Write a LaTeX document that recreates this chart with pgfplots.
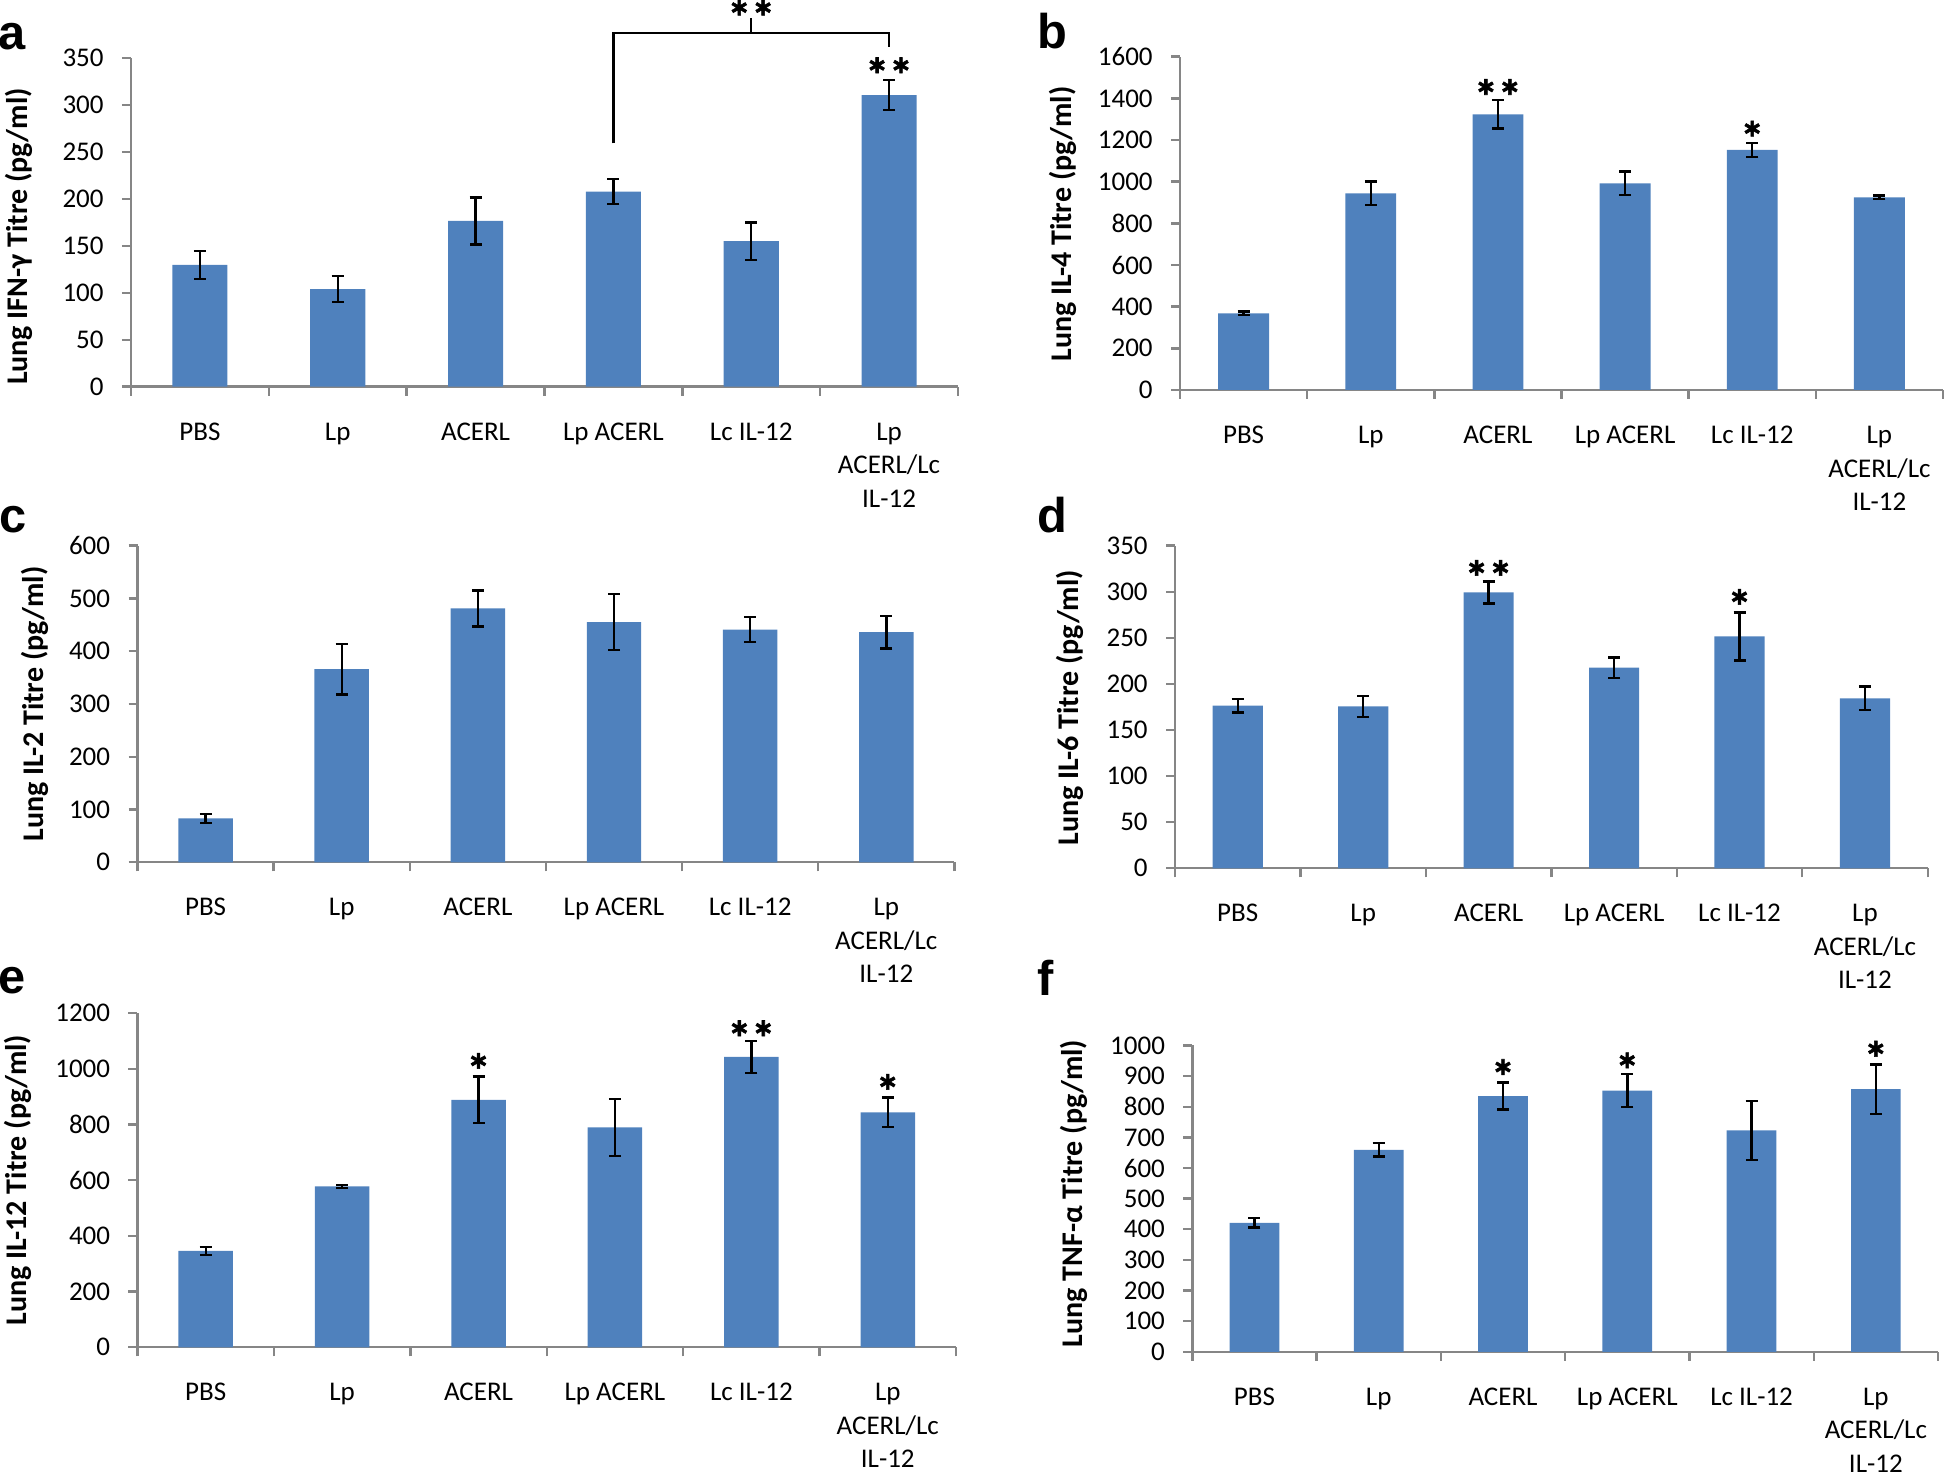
\documentclass[border=0pt]{standalone}
\usepackage{pgfplots}
\pgfplotsset{compat=1.18}
\usepackage{fontspec}
\setmainfont{Carlito}
\newfontfamily\arialfont{Liberation Sans}
\newfontfamily\starfam{Carlito}[BoldFeatures={FakeBold=1.2}]
\definecolor{axisgray}{HTML}{868686}
\definecolor{barblue}{HTML}{4F81BD}
\newcommand\ticksfont{\fontsize{6.75}{8.4}\selectfont}
\newcommand\labelfont{\fontsize{7.5}{9}\selectfont\bfseries}
\newcommand\starfont{\fontsize{12}{14}\selectfont\starfam\bfseries}
\newcommand\letterfont{\fontsize{12.2}{14}\selectfont\bfseries\arialfont}
\tikzset{sigstar/.style={font=\starfont, anchor=center, yshift=-2pt, inner sep=0pt}}
\pgfplotsset{
  panel/.style={
    scale only axis, anchor=south west,
    xmin=-0.5, xmax=5.5, ymin=0,
    axis x line*=bottom, axis y line*=left,
    axis line style={draw=axisgray, line width=0.6pt},
    tick align=outside,
    major tick length=2.25pt, minor tick length=2.25pt,
    tick style={draw=axisgray, line width=0.6pt},
    major x tick style={draw=none},
    xtick={0,...,5},
    minor xtick={-0.5,0.5,...,5.5},
    xticklabels={PBS, Lp, ACERL, Lp ACERL, Lc IL-12, {Lp\\ACERL/Lc\\IL-12}},
    xticklabel style={align=center, font=\ticksfont, anchor=north, inner sep=0pt, yshift=-6.58pt},
    yticklabel style={font=\ticksfont, anchor=east, inner sep=0pt, xshift=-4.4pt},
    /pgf/number format/assume math mode=true,
    /pgf/number format/1000 sep={},
    ybar, bar width=0.4,
    clip=false,
    every axis y label/.style={rotate=90, anchor=center, font=\labelfont},
  },
  bars/.style={fill=barblue, draw=none,
    error bars/.cd, y dir=both, y explicit,
    error bar style={black, line width=0.6pt},
    error mark options={rotate=90, mark size=1.5pt, line width=0.6pt, black}},
}
\begin{document}
\begin{tikzpicture}
\useasboundingbox (0,0) rectangle (486.25pt,368.25pt);
% panel a
\begin{axis}[panel, at={(32.75pt,271.575pt)}, width=206.75pt, height=82.1pt,
  ymax=350, ytick={0,50,...,350},
  ylabel={Lung IFN-γ Titre (pg/ml)},
  ylabel style={at={(axis description cs:-0.1354,0.457)}}]
\addplot[bars] coordinates {(0,129.7) +- (0,15) (1,104) +- (0,14) (2,176.6) +- (0,25) (3,208) +- (0,13.5) (4,155) +- (0,20) (5,310.6) +- (0,16)};
\node[sigstar] at (axis cs:5,341) {**};
\draw[black, line width=0.55pt] (axis cs:3,259.4) -- (axis cs:3,377.3) -- (axis cs:5,377.3) -- (axis cs:5,362.4);
\draw[black, line width=0.55pt] (axis cs:4,377.3) -- (axis cs:4,392.6);
\node[sigstar] at (axis cs:4,402.5) {**};
\end{axis}
% panel b
\begin{axis}[panel, at={(295pt,270.75pt)}, width=190.75pt, height=83.325pt,
  ymax=1600, ytick={0,200,...,1600},
  ylabel={Lung IL-4 Titre (pg/ml)},
  ylabel style={at={(axis description cs:-0.1533,0.498)}}]
\addplot[bars] coordinates {(0,368) +- (0,8) (1,944) +- (0,56) (2,1323) +- (0,68) (3,992) +- (0,56) (4,1152) +- (0,34) (5,925) +- (0,8)};
\node[sigstar] at (axis cs:2,1448) {**};
\node[sigstar] at (axis cs:4,1248) {*};
\end{axis}
% panel c
\begin{axis}[panel, at={(34.375pt,152.675pt)}, width=204.225pt, height=79.15pt,
  ymax=600, ytick={0,100,...,600},
  ylabel={Lung IL-2 Titre (pg/ml)},
  ylabel style={at={(axis description cs:-0.1261,0.5)}}]
\addplot[bars] coordinates {(0,83) +- (0,8) (1,366) +- (0,48) (2,481) +- (0,34) (3,455) +- (0,53) (4,441) +- (0,24) (5,436) +- (0,31)};
\end{axis}
% panel d
\begin{axis}[panel, at={(293.75pt,151.175pt)}, width=188.175pt, height=80.65pt,
  ymax=350, ytick={0,50,...,350},
  ylabel={Lung IL-6 Titre (pg/ml)},
  ylabel style={at={(axis description cs:-0.140,0.498)}}]
\addplot[bars] coordinates {(0,176.4) +- (0,7.5) (1,175.7) +- (0,11.5) (2,299.3) +- (0,12) (3,217.6) +- (0,11) (4,251.6) +- (0,26) (5,184.4) +- (0,13)};
\node[sigstar] at (axis cs:2,324.4) {**};
\node[sigstar] at (axis cs:4,293) {*};
\end{axis}
% panel e
\begin{axis}[panel, at={(34.375pt,31.425pt)}, width=204.625pt, height=83.5pt,
  ymax=1200, ytick={0,200,...,1200},
  ylabel={Lung IL-12 Titre (pg/ml)},
  ylabel style={at={(axis description cs:-0.146,0.501)}}]
\addplot[bars] coordinates {(0,346) +- (0,15) (1,578) +- (0,6) (2,889) +- (0,84) (3,790) +- (0,103) (4,1043) +- (0,58) (5,844) +- (0,53)};
\node[sigstar] at (axis cs:2,1024) {*};
\node[sigstar] at (axis cs:4,1141) {**};
\node[sigstar] at (axis cs:5,948.5) {*};
\end{axis}
% panel f
\begin{axis}[panel, at={(298.075pt,30.3pt)}, width=186.425pt, height=76.575pt,
  ymax=1000, ytick={0,100,...,1000},
  ylabel={Lung TNF-α Titre (pg/ml)},
  ylabel style={at={(axis description cs:-0.1586,0.517)}}]
\addplot[bars] coordinates {(0,421) +- (0,15) (1,659) +- (0,22) (2,835) +- (0,44) (3,853) +- (0,53) (4,722.5) +- (0,96) (5,857.5) +- (0,81)};
\node[sigstar] at (axis cs:2,925) {*};
\node[sigstar] at (axis cs:3,946.8) {*};
\node[sigstar] at (axis cs:5,984.7) {*};
\end{axis}
% panel letters
\node[font=\letterfont, inner sep=0pt] at (3pt,359.125pt) {a};
\node[font=\letterfont, inner sep=0pt] at (263pt,360.5pt) {b};
\node[font=\letterfont, inner sep=0pt] at (3.25pt,238.25pt) {c};
\node[font=\letterfont, inner sep=0pt] at (263.15pt,239.6pt) {d};
\node[font=\letterfont, inner sep=0pt] at (3.125pt,123pt) {e};
\node[font=\letterfont, inner sep=0pt] at (261.5pt,123.9pt) {f};
\end{tikzpicture}
\end{document}
